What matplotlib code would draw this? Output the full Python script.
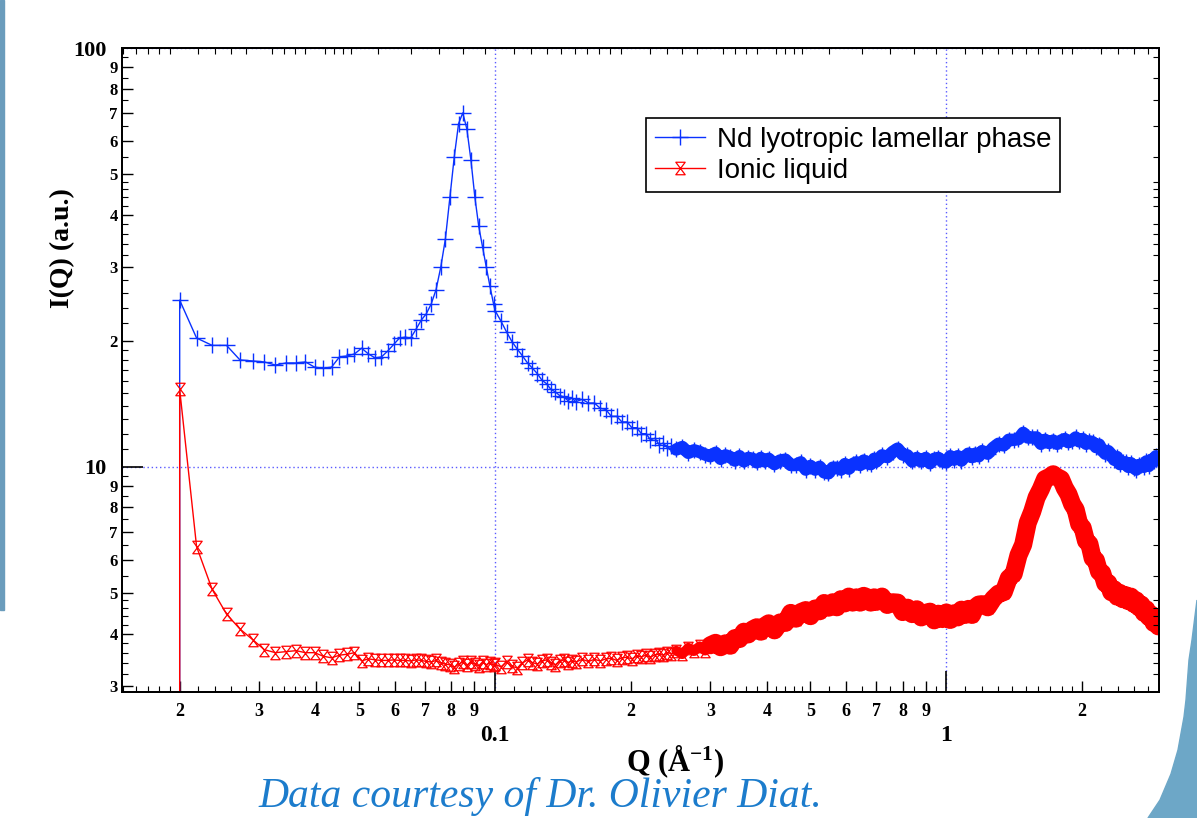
import matplotlib
matplotlib.use('Agg')
import matplotlib.pyplot as plt
import numpy as np
from matplotlib.path import Path
from matplotlib.patches import Polygon, Rectangle
from matplotlib.ticker import FixedLocator, FixedFormatter, FuncFormatter, NullLocator

plt.rcParams['font.family'] = ['Liberation Serif', 'DejaVu Serif']
plt.rcParams['font.weight'] = 'bold'
plt.rcParams['axes.labelweight'] = 'bold'
plt.rcParams['mathtext.fontset'] = 'custom'
plt.rcParams['mathtext.rm'] = 'Liberation Serif:bold'
plt.rcParams['mathtext.it'] = 'Liberation Serif:bold'
plt.rcParams['mathtext.bf'] = 'Liberation Serif:bold'

# Q values (1/A), shared by both curves; the first point is the zero-intensity start
q = [0.0200,
     0.0200, 0.0218, 0.0236, 0.0254, 0.0272, 0.0290, 0.0308, 0.0326, 0.0344, 0.0362,
     0.0380, 0.0398, 0.0416, 0.0434, 0.0452, 0.0470, 0.0488, 0.0506, 0.0524, 0.0542,
     0.0560, 0.0578, 0.0596, 0.0614, 0.0632, 0.0650, 0.0668, 0.0686, 0.0704, 0.0722,
     0.0740, 0.0758, 0.0776, 0.0794, 0.0812, 0.0830, 0.0848, 0.0866, 0.0884, 0.0902,
     0.0920, 0.0938, 0.0956, 0.0974, 0.0992,
     0.100, 0.103, 0.106, 0.109, 0.112, 0.115, 0.118, 0.121, 0.124, 0.127,
     0.130, 0.133, 0.136, 0.139, 0.142, 0.145, 0.148,
     0.151, 0.156, 0.161, 0.166, 0.171, 0.176, 0.181, 0.186, 0.191, 0.196,
     0.201, 0.206, 0.211, 0.216, 0.221, 0.226, 0.231, 0.236, 0.241, 0.246,
     0.252, 0.260, 0.268, 0.276, 0.284, 0.292, 0.300, 0.308, 0.316, 0.324,
     0.332, 0.340, 0.348, 0.356, 0.364, 0.372, 0.380, 0.388, 0.396,
     0.404, 0.416, 0.428, 0.440, 0.452, 0.464, 0.476, 0.488, 0.500, 0.512,
     0.524, 0.536, 0.548, 0.560, 0.572, 0.584, 0.596, 0.608, 0.620, 0.632,
     0.644, 0.656, 0.668, 0.680, 0.692,
     0.70, 0.72, 0.74, 0.76, 0.78, 0.80, 0.82, 0.84, 0.86, 0.88,
     0.90, 0.92, 0.94, 0.96, 0.98, 1.00, 1.02, 1.04, 1.06, 1.08,
     1.10, 1.12, 1.14, 1.16, 1.18,
     1.200, 1.235, 1.270, 1.305, 1.340, 1.375, 1.410, 1.445, 1.480, 1.515,
     1.550, 1.585, 1.620, 1.655, 1.690, 1.725, 1.760, 1.795, 1.830, 1.865,
     1.900, 1.935, 1.970, 2.005, 2.040, 2.075, 2.110, 2.145, 2.180, 2.215,
     2.250, 2.285, 2.320, 2.355, 2.390, 2.425, 2.460, 2.495, 2.530, 2.565,
     2.600, 2.635, 2.670, 2.705, 2.740, 2.775, 2.810, 2.845, 2.880, 2.915,
     2.950]

# I(Q) of the Nd lyotropic lamellar phase
i_lamellar = [0.5,
     25.0, 20.3, 19.5, 19.5, 18.0, 17.9, 17.8, 17.5, 17.7, 17.7,
     17.8, 17.3, 17.2, 17.3, 18.3, 18.4, 18.6, 19.2, 18.6, 18.2,
     18.3, 18.9, 19.6, 20.3, 20.4, 20.3, 21.3, 22.4, 23.2, 24.5,
     26.5, 30.0, 35.0, 44.0, 55.0, 66.0, 70.0, 64.0, 54.0, 44.0,
     37.5, 33.5, 30.0, 27.0, 24.5,
     23.6, 22.3, 21.0, 19.9, 19.1, 18.4, 17.7, 17.2, 16.7, 16.1,
     15.8, 15.3, 15.1, 14.8, 14.7, 14.4, 14.6,
     14.3, 14.5, 14.2, 14.2, 13.8, 13.7, 13.2, 13.2, 12.8, 12.8,
     12.4, 12.4, 12.0, 12.0, 11.6, 11.7, 11.3, 11.4, 11.1, 11.2,
     11.0, 11.15, 10.8, 10.95, 10.85, 10.7, 10.6, 10.8, 10.45, 10.65,
     10.55, 10.35, 10.6, 10.3, 10.5, 10.45, 10.25, 10.5, 10.3,
     10.45, 10.15, 10.35, 10.4, 10.1, 10.1, 10.25, 9.85, 10.05, 9.85,
     10.0, 9.7, 9.65, 9.95, 9.95, 9.85, 10.15, 9.9, 10.15, 10.25,
     10.1, 10.35, 10.2, 10.15, 10.45,
     10.3, 10.65, 10.55, 10.85, 11.05, 10.7, 10.65, 10.3, 10.5, 10.3,
     10.5, 10.2, 10.45, 10.5, 10.3, 10.25, 10.6, 10.4, 10.6, 10.35,
     10.6, 10.75, 10.55, 10.75, 10.6,
     10.9, 10.75, 11.1, 11.35, 11.25, 11.6, 11.6, 11.65, 12.05, 11.75,
     11.75, 11.75, 11.35, 11.6, 11.4, 11.55, 11.35, 11.55, 11.65, 11.45,
     11.55, 11.75, 11.5, 11.65, 11.35, 11.5, 11.45, 11.15, 11.3, 10.95,
     10.75, 10.9, 10.7, 10.4, 10.55, 10.15, 10.25, 10.25, 10.0, 10.2,
     9.95, 9.85, 10.1, 10.1, 10.0, 10.3, 10.05, 10.4, 10.3, 10.6,
     10.45]

# I(Q) of the ionic liquid
i_ionic = [0.5,
     15.3, 6.45, 5.1, 4.45, 4.1, 3.87, 3.66, 3.6, 3.62, 3.64,
     3.6, 3.6, 3.53, 3.5, 3.55, 3.57, 3.6, 3.44, 3.48, 3.46,
     3.45, 3.45, 3.46, 3.45, 3.45, 3.44, 3.46, 3.45, 3.43, 3.42,
     3.45, 3.4, 3.38, 3.37, 3.32, 3.38, 3.42, 3.36, 3.42, 3.38,
     3.35, 3.42, 3.37, 3.4, 3.36,
     3.38, 3.33, 3.42, 3.34, 3.31, 3.4, 3.46, 3.41, 3.38, 3.44,
     3.46, 3.4, 3.37, 3.43, 3.46, 3.41, 3.44,
     3.42, 3.47, 3.43, 3.47, 3.44, 3.48, 3.49, 3.45, 3.5, 3.51,
     3.48, 3.53, 3.52, 3.55, 3.51, 3.56, 3.57, 3.55, 3.6, 3.58,
     3.64, 3.57, 3.70, 3.63, 3.73, 3.64, 3.75, 3.80, 3.71, 3.79,
     3.74, 3.90, 3.88, 4.04, 3.98, 4.09, 4.14, 4.04, 4.17,
     4.23, 4.07, 4.25, 4.24, 4.48, 4.34, 4.50, 4.55, 4.40, 4.59,
     4.52, 4.73, 4.61, 4.75, 4.62, 4.83, 4.72, 4.90, 4.74, 4.88,
     4.74, 4.92, 4.88, 4.74, 4.88,
     4.76, 4.90, 4.68, 4.75, 4.74, 4.50, 4.61, 4.45, 4.57, 4.37,
     4.48, 4.51, 4.30, 4.46, 4.33, 4.49, 4.31, 4.47, 4.37, 4.56,
     4.43, 4.58, 4.43, 4.62, 4.69,
     4.70, 4.62, 4.84, 4.98, 5.02, 5.42, 5.55, 6.15, 6.52, 7.35,
     7.82, 8.45, 8.85, 9.35, 9.45, 9.6, 9.45, 9.35, 8.9, 8.6,
     8.15, 7.9, 7.3, 7.15, 6.65, 6.55, 6.05, 5.98, 5.62, 5.58,
     5.27, 5.28, 5.02, 5.1, 4.9, 5.0, 4.83, 4.94, 4.78, 4.9,
     4.71, 4.8, 4.62, 4.69, 4.48, 4.57, 4.38, 4.44, 4.24, 4.32,
     4.16]

labels = ['Nd lyotropic lamellar phase', 'Ionic liquid']

W, H = 1197, 818
fig = plt.figure(figsize=(W / 100, H / 100), dpi=100)
ax = fig.add_axes([122 / W, 1 - 692 / H, (1159 - 122) / W, (692 - 48) / H])

# hourglass marker for the ionic liquid
hourglass = Path([(-0.75, 1), (0.75, 1), (-0.75, -1), (0.75, -1), (-0.75, 1)],
                 [Path.MOVETO, Path.LINETO, Path.LINETO, Path.LINETO, Path.CLOSEPOLY])

# at high Q the points are so dense that they merge into a thick band
dense = q.index(0.252)
dense_red = q.index(0.300)

ax.plot(q[dense:], i_lamellar[dense:], color='#0a32ff', lw=9, solid_joinstyle='round',
        solid_capstyle='round')
ax.plot(q, i_lamellar, color='#0a32ff', lw=1.0, marker='+', ms=11, mew=1.0,
        label=labels[0])
ax.plot(q[dense_red:], i_ionic[dense_red:], color='#ff0000', lw=13, solid_joinstyle='round',
        solid_capstyle='round')
ax.plot(q[dense:dense_red + 1], i_ionic[dense:dense_red + 1], color='#ff0000', lw=7,
        solid_joinstyle='round', solid_capstyle='round')
ax.plot(q, i_ionic, color='#ff0000', lw=1.0, marker=hourglass, ms=9, mew=0.9,
        mfc='none', label=labels[1])

ax.set_xscale('log')
ax.set_yscale('log')
ax.set_xlim(0.0149, 2.96)
ax.set_ylim(2.9, 100)

# ticks: decades with big labels, 2..9 with small labels
digit = FuncFormatter(lambda v, p: '%d' % round(v / 10 ** np.floor(np.log10(v) + 1e-9)))
ax.xaxis.set_major_locator(FixedLocator([0.1, 1]))
ax.xaxis.set_major_formatter(FixedFormatter(['0.1', '1']))
ax.xaxis.set_minor_locator(FixedLocator([m * d for d in (0.01, 0.1, 1) for m in range(2, 10)]))
ax.xaxis.set_minor_formatter(digit)
ax.yaxis.set_major_locator(FixedLocator([10, 100]))
ax.yaxis.set_major_formatter(FixedFormatter(['10', '100']))
ax.yaxis.set_minor_locator(FixedLocator([m * d for d in (1, 10) for m in range(2, 10)]))
ax.yaxis.set_minor_formatter(digit)

ax.tick_params(axis='x', which='major', direction='in', length=15, width=1.2, pad=24,
               labelsize=17, top=True)
ax.tick_params(axis='x', which='minor', direction='in', length=8, width=1, pad=8,
               labelsize=13, top=True)
ax.tick_params(axis='y', which='major', direction='in', length=15, width=1.2, pad=11,
               labelsize=16, right=True)
ax.tick_params(axis='y', which='minor', direction='in', length=8, width=1, pad=3,
               labelsize=12, right=True)

# small sub-ticks between the labelled ones
subs = list(np.arange(1.1, 2.0, 0.1)) + list(np.arange(2.2, 5.0, 0.2)) + list(np.arange(5.5, 10, 0.5))
subs = [s for s in subs if abs(s - round(s)) > 0.01]
axt = ax.twiny()
axt.set_xscale('log')
axt.set_xlim(ax.get_xlim())
axt.xaxis.set_major_locator(FixedLocator([s * d for d in (0.01, 0.1, 1) for s in subs]))
axt.xaxis.set_minor_locator(NullLocator())
axt.tick_params(axis='x', direction='in', length=4, width=0.8, top=True, bottom=True,
                labeltop=False, labelbottom=False)
axr = ax.twinx()
axr.set_yscale('log')
axr.set_ylim(ax.get_ylim())
axr.yaxis.set_major_locator(FixedLocator([s * d for d in (1, 10) for s in subs]))
axr.yaxis.set_minor_locator(NullLocator())
axr.tick_params(axis='y', direction='in', length=4, width=0.8, left=True, right=True,
                labelleft=False, labelright=False)

for a in (ax, axt, axr):
    for s in a.spines.values():
        s.set_linewidth(1.2)

ax.grid(which='major', color='#5a5aff', ls=(0, (1, 2)), lw=1)

ax.set_xlabel('Q (Å$^{-1}$)', fontsize=22, fontweight='bold')
ax.xaxis.set_label_coords(0.533, -0.08)
ax.set_ylabel('I(Q) (a.u.)', fontsize=20, fontweight='bold')
ax.yaxis.set_label_coords(-0.045, 0.689)

leg = ax.legend(loc='upper right', bbox_to_anchor=(0.9045, 0.891), borderaxespad=0,
                prop={'family': 'Liberation Sans', 'weight': 'normal', 'size': 20},
                fancybox=False, edgecolor='black', framealpha=1, handlelength=1.8,
                handletextpad=0.45, labelspacing=0.2, borderpad=0.3, numpoints=1)
leg.get_frame().set_linewidth(1.2)

# slide decorations around the chart
fig.patches.append(Rectangle((0, 1 - 610 / H), 4 / W, 610 / H, transform=fig.transFigure,
                             color='#6a9cbc', zorder=0))
edge = [(1197, 600), (1192, 640), (1189, 660), (1186, 700), (1184, 717), (1178, 750),
        (1171, 774), (1160, 800), (1148, 818), (1197, 818)]
fig.patches.append(Polygon([(x / W, 1 - y / H) for x, y in edge], closed=True,
                           transform=fig.transFigure, color='#6da7c7', zorder=0))

fig.text(540 / W, 1 - 797 / H, 'Data courtesy of Dr. Olivier Diat.', color='#1c7ccc',
         fontsize=30, style='italic', weight='normal', ha='center', va='center')

fig.savefig('out.png', dpi=100)
